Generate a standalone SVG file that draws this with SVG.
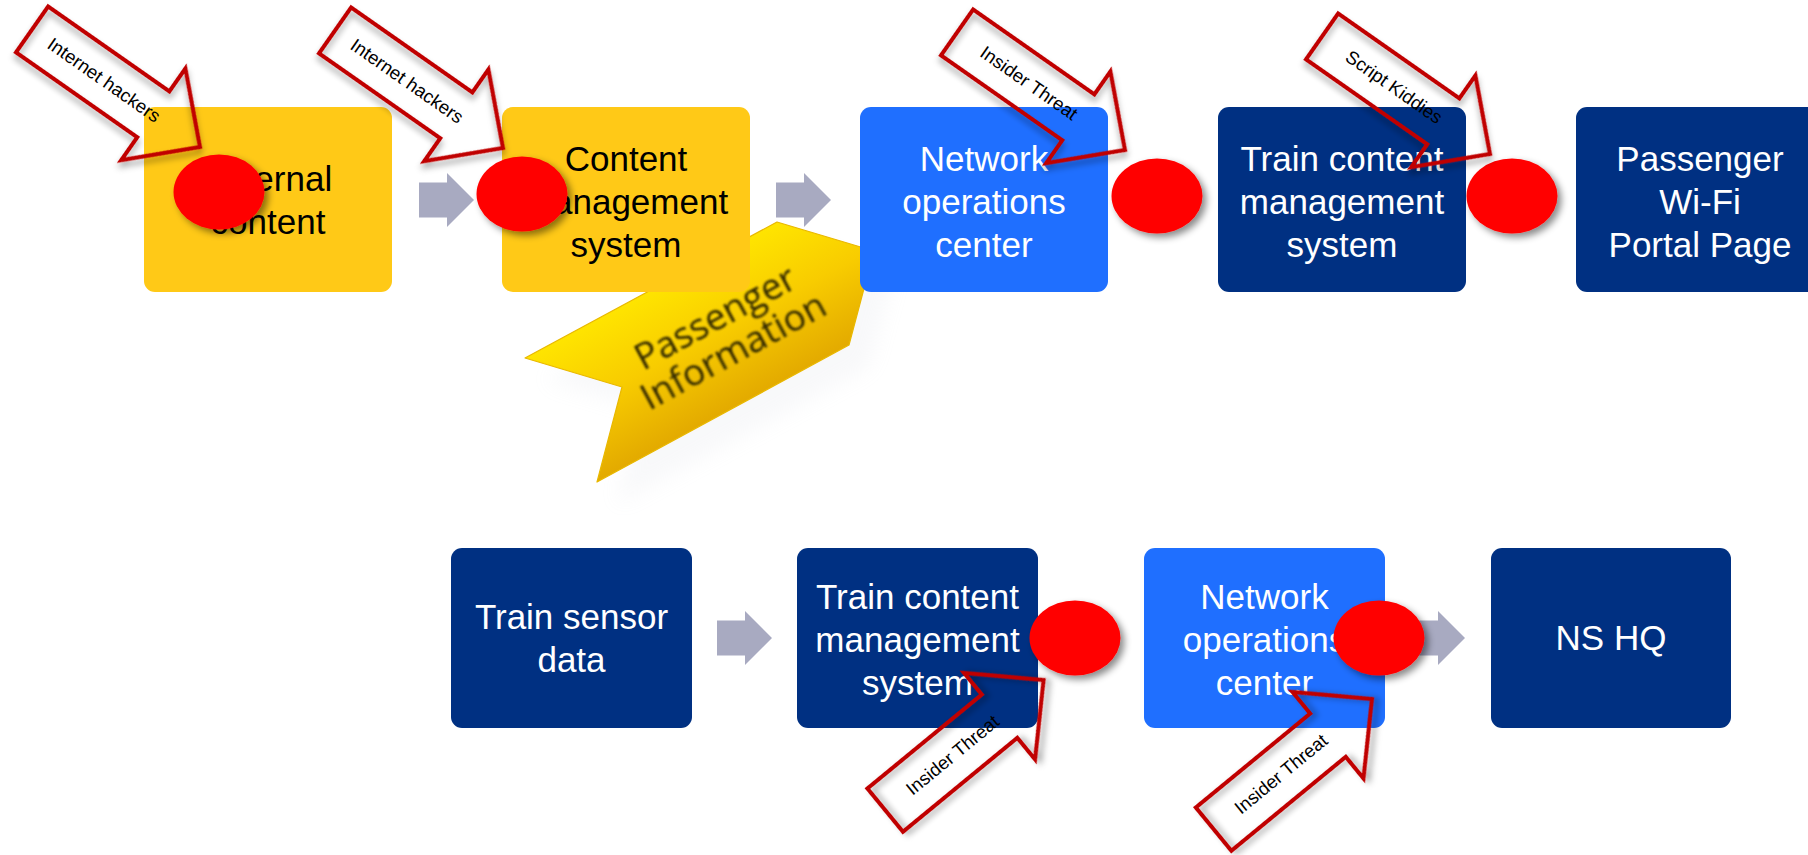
<svg xmlns="http://www.w3.org/2000/svg" width="1808" height="855" viewBox="0 0 1808 855">
  <style>
    .box { stroke: none; }
    .yellow { fill: #FFC917; }
    .blue { fill: #1F6FFF; }
    .navy { fill: #003082; }
    .label { font-family: "Liberation Sans", Arial, Helvetica, sans-serif; font-size: 35px; text-anchor: middle; }
    .dark { fill: #000000; }
    .light { fill: #FFFFFF; }
    .flow { fill: #A8AAC1; }
    .threat { fill: none; stroke: #C00000; stroke-width: 4; stroke-linejoin: miter; }
    .threat-text { font-family: "Liberation Sans", Arial, sans-serif; font-size: 18.5px; fill: #000; text-anchor: middle; }
    .dot { fill: #FF0000; }
    .banner-text { font-family: "Open Sans", "Noto Sans", sans-serif; font-size: 37px; font-weight: 500; fill: #2E2600; text-anchor: middle; }
  </style>
  <defs>
    <!-- block arrow for the data flow, tip at origin -->
    <path id="flow-arrow" d="M-55,-17.5 L-27,-17.5 L-27,-27 L0,0 L-27,27 L-27,17.5 L-55,17.5 Z"/>
    <!-- outlined callout arrow, tip at origin -->
    <path id="threat-arrow" d="M-205,-28 L-57,-28 L-57,-56 L0,0 L-57,56 L-57,28 L-205,28 Z"/>
    <filter id="soft-shadow" x="-30%" y="-30%" width="160%" height="160%">
      <feDropShadow dx="4" dy="4" stdDeviation="3.5" flood-color="#000" flood-opacity="0.45"/>
    </filter>
    <filter id="line-shadow" x="-30%" y="-30%" width="160%" height="160%">
      <feDropShadow dx="3" dy="4" stdDeviation="3" flood-color="#000" flood-opacity="0.35"/>
    </filter>
    <filter id="haze" x="-20%" y="-20%" width="140%" height="140%">
      <feGaussianBlur stdDeviation="10"/>
    </filter>
    <filter id="soft-text">
      <feGaussianBlur stdDeviation="0.8"/>
    </filter>
    <linearGradient id="banner-fill" gradientUnits="userSpaceOnUse" x1="650" y1="285" x2="720" y2="415">
      <stop offset="0" stop-color="#FFE600"/>
      <stop offset="0.5" stop-color="#F8CC00"/>
      <stop offset="1" stop-color="#E3AA00"/>
    </linearGradient>
  </defs>

  <rect width="1808" height="855" fill="#FFFFFF"/>

  <!-- Passenger Information chevron banner (behind the nodes) -->
  <g id="passenger-information">
    <path d="M525,358 L777,222 L874,251 L849,345 L597,482 L622,387 Z" fill="#C8CCD8" opacity="0.12" filter="url(#haze)" transform="translate(20,22)"/>
    <path d="M525,358 L777,222 L874,251 L849,345 L597,482 L622,387 Z" fill="url(#banner-fill)" stroke="#E9B800" stroke-width="1.2" stroke-linejoin="round"/>
    <g transform="translate(724,334) rotate(-28.5)" filter="url(#soft-text)">
      <text class="banner-text" x="0" y="-6">Passenger</text>
      <text class="banner-text" x="0" y="32">Information</text>
    </g>
  </g>

  <!-- data flow arrows -->
  <g id="connectors">
    <use href="#flow-arrow" class="flow" transform="translate(474,200)"/>
    <use href="#flow-arrow" class="flow" transform="translate(831,200)"/>
    <use href="#flow-arrow" class="flow" transform="translate(772,638)"/>
    <use href="#flow-arrow" class="flow" transform="translate(1465,638)"/>
  </g>

  <!-- top flow: passenger information -->
  <g id="external-content">
    <rect class="box yellow" x="144" y="107" width="248" height="185" rx="11"/>
    <text class="label dark" x="268" y="191">External</text>
    <text class="label dark" x="268" y="234">content</text>
  </g>
  <g id="content-management-system">
    <rect class="box yellow" x="502" y="107" width="248" height="185" rx="11"/>
    <text class="label dark" x="626" y="171">Content</text>
    <text class="label dark" x="626" y="214">management</text>
    <text class="label dark" x="626" y="257">system</text>
  </g>
  <g id="network-operations-center-top">
    <rect class="box blue" x="860" y="107" width="248" height="185" rx="11"/>
    <text class="label light" x="984" y="171">Network</text>
    <text class="label light" x="984" y="214">operations</text>
    <text class="label light" x="984" y="257">center</text>
  </g>
  <g id="train-cms-top">
    <rect class="box navy" x="1218" y="107" width="248" height="185" rx="11"/>
    <text class="label light" x="1342" y="171">Train content</text>
    <text class="label light" x="1342" y="214">management</text>
    <text class="label light" x="1342" y="257">system</text>
  </g>
  <g id="wifi-portal">
    <rect class="box navy" x="1576" y="107" width="248" height="185" rx="11"/>
    <text class="label light" x="1700" y="171">Passenger</text>
    <text class="label light" x="1700" y="214">Wi-Fi</text>
    <text class="label light" x="1700" y="257">Portal Page</text>
  </g>

  <!-- bottom flow: train sensor data -->
  <g id="train-sensor-data">
    <rect class="box navy" x="451" y="548" width="241" height="180" rx="11"/>
    <text class="label light" x="571.5" y="629">Train sensor</text>
    <text class="label light" x="571.5" y="672">data</text>
  </g>
  <g id="train-cms-bottom">
    <rect class="box navy" x="797" y="548" width="241" height="180" rx="11"/>
    <text class="label light" x="917.5" y="609">Train content</text>
    <text class="label light" x="917.5" y="652">management</text>
    <text class="label light" x="917.5" y="695">system</text>
  </g>
  <g id="network-operations-center-bottom">
    <rect class="box blue" x="1144" y="548" width="241" height="180" rx="11"/>
    <text class="label light" x="1264.5" y="609">Network</text>
    <text class="label light" x="1264.5" y="652">operations</text>
    <text class="label light" x="1264.5" y="695">center</text>
  </g>
  <g id="ns-hq">
    <rect class="box navy" x="1491" y="548" width="240" height="180" rx="11"/>
    <text class="label light" x="1611" y="650">NS HQ</text>
  </g>

  <!-- vulnerable points -->
  <g id="weak-points" filter="url(#soft-shadow)">
    <ellipse id="point-1" class="dot" cx="219" cy="192" rx="45.5" ry="37.5"/>
    <ellipse id="point-2" class="dot" cx="522" cy="194" rx="45.5" ry="37.5"/>
    <ellipse id="point-3" class="dot" cx="1157" cy="196" rx="45.5" ry="37.5"/>
    <ellipse id="point-4" class="dot" cx="1512" cy="196" rx="45.5" ry="37.5"/>
    <ellipse id="point-5" class="dot" cx="1075" cy="638" rx="45.5" ry="37.5"/>
    <ellipse id="point-6" class="dot" cx="1379" cy="638" rx="45.5" ry="37.5"/>
  </g>

  <!-- threat actors -->
  <g id="threat-internet-hackers-1" transform="translate(200,147) rotate(35)">
    <use href="#threat-arrow" class="threat" filter="url(#line-shadow)"/>
    <text class="threat-text" x="-117" y="6.5">Internet hackers</text>
  </g>
  <g id="threat-internet-hackers-2" transform="translate(503,148) rotate(35)">
    <use href="#threat-arrow" class="threat" filter="url(#line-shadow)"/>
    <text class="threat-text" x="-117" y="6.5">Internet hackers</text>
  </g>
  <g id="threat-insider-top" transform="translate(1125,150) rotate(35)">
    <use href="#threat-arrow" class="threat" filter="url(#line-shadow)"/>
    <text class="threat-text" x="-117" y="6.5">Insider Threat</text>
  </g>
  <g id="threat-script-kiddies" transform="translate(1490,154) rotate(35)">
    <use href="#threat-arrow" class="threat" filter="url(#line-shadow)"/>
    <text class="threat-text" x="-117" y="6.5">Script Kiddies</text>
  </g>
  <g id="threat-insider-cms" transform="translate(1043.6,680) rotate(-39.4)">
    <use href="#threat-arrow" class="threat" filter="url(#line-shadow)"/>
    <text class="threat-text" x="-118" y="6.5">Insider Threat</text>
  </g>
  <g id="threat-insider-noc" transform="translate(1372,699) rotate(-39.4)">
    <use href="#threat-arrow" class="threat" filter="url(#line-shadow)"/>
    <text class="threat-text" x="-118" y="6.5">Insider Threat</text>
  </g>
</svg>
